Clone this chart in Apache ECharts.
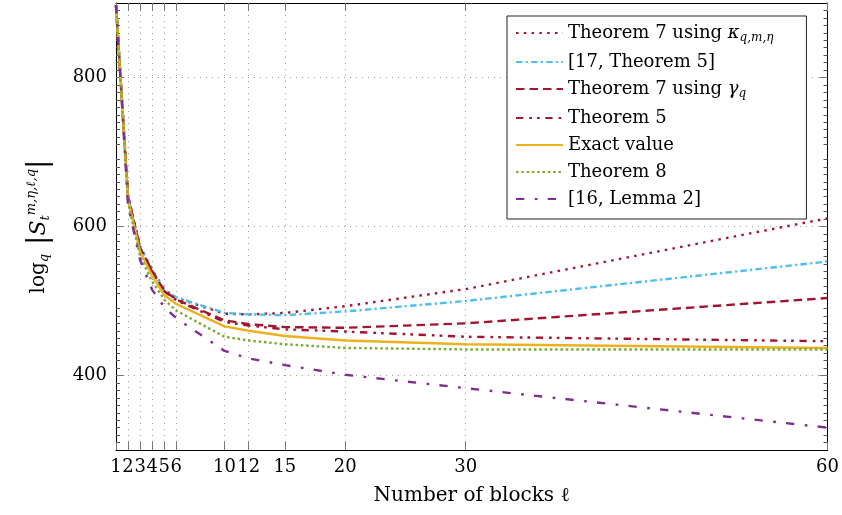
<!DOCTYPE html>
<html>
<head>
<meta charset="utf-8">
<script src="https://cdn.jsdelivr.net/npm/echarts@6/dist/echarts.min.js"></script>
<style>
  html, body { margin: 0; padding: 0; background: #fff; }
  #main { width: 842px; height: 515px; }
</style>
</head>
<body>
<div id="main"></div>
<script>
// x values (number of blocks) and tick labels
var blocks = [1, 2, 3, 4, 5, 6, 10, 12, 15, 20, 30, 60];
var yTicks = [400, 600, 800];

// log_q |S|, one value per entry of blocks
var thm7Kappa = [897, 641, 573, 542, 516, 504, 483, 482, 484, 493, 516, 611];
var ref17Thm5 = [897, 640, 572, 541, 515, 505, 484, 482, 481, 486, 500, 553];
var thm7Gamma = [897, 640, 571, 540, 514, 502, 474, 469, 465, 464, 470, 504];
var thm5 = [897, 640, 571, 539, 513, 501, 472, 467, 462, 459, 452, 446];
var exactVal = [897, 636, 566, 534, 508, 496, 466, 460, 453, 447, 442, 437];
var thm8 = [897, 632, 560, 526, 502, 487, 452, 447, 442, 437, 435, 435];
var ref16Lem2 = [897, 628, 555, 515, 492, 477, 433, 423, 414, 401, 383, 330];

var FONT = 'DejaVu Serif';

function pairs(vals) {
  return blocks.map(function (b, i) { return [b, vals[i]]; });
}

var lines = [
  { name: 'Theorem 7 using κ_q,m,η', data: thm7Kappa, color: '#A2142F', dash: [2.5, 5.3] },
  { name: '[17, Theorem 5]', data: ref17Thm5, color: '#4DBEEE', dash: [6.5, 3.2, 2.2, 3.2] },
  { name: 'Theorem 7 using γ_q', data: thm7Gamma, color: '#A2142F', dash: [8.5, 5] },
  { name: 'Theorem 5', data: thm5, color: '#A2142F', dash: [7.3, 6, 2.7, 5, 2.7, 5.6] },
  { name: 'Exact value', data: exactVal, color: '#EDB120', dash: 'solid' },
  { name: 'Theorem 8', data: thm8, color: '#77AC30', dash: [2.5, 2.8] },
  { name: '[16, Lemma 2]', data: ref16Lem2, color: '#7E2F8E', dash: [8.3, 10.5, 2.7, 10.2] }
];

var myChart = echarts.init(document.getElementById('main'));

var gridLine = { show: true, lineStyle: { color: '#9a9a9a', width: 1, type: [1, 5] } };

myChart.setOption({
  animation: false,
  backgroundColor: '#fff',
  grid: { left: 116, right: 14, top: 3, bottom: 65, containLabel: false },
  legend: {
    orient: 'vertical',
    left: 507,
    top: 16,
    padding: [8, 33, 11, 8],
    itemGap: 9,
    itemWidth: 47,
    itemHeight: 12,
    backgroundColor: '#fff',
    borderColor: '#222',
    borderWidth: 1,
    borderRadius: 0,
    itemStyle: { opacity: 0 },
    textStyle: {
      rich: {
        t: { fontFamily: FONT, fontSize: 18, lineHeight: 22, color: '#000' },
        m: { fontFamily: FONT, fontSize: 18, lineHeight: 22, fontStyle: 'italic', color: '#000' },
        s: { fontFamily: FONT, fontSize: 12, lineHeight: 12, fontStyle: 'italic', verticalAlign: 'bottom', color: '#000' }
      }
    },
    formatter: function (name) {
      var p = name.split('_');
      if (p.length === 1) return '{t|' + name + '}';
      return '{t|' + p[0].slice(0, -1) + '}{m|' + p[0].slice(-1) + '}{s|' + p[1] + '}';
    },
    data: lines.map(function (l) { return l.name; })
  },
  xAxis: [{
    type: 'value',
    min: 1,
    max: 60,
    position: 'bottom',
    name: 'Number of blocks ℓ',
    nameLocation: 'middle',
    nameGap: 36,
    nameTextStyle: { fontFamily: FONT, fontSize: 20, color: '#000' },
    axisLine: { show: true, lineStyle: { color: '#000', width: 1 } },
    axisTick: { show: true, inside: true, length: 8, customValues: blocks, lineStyle: { color: '#777' } },
    axisLabel: { show: true, customValues: blocks, margin: 8, fontFamily: FONT, fontSize: 18, color: '#000' },
    splitLine: gridLine
  }, {
    type: 'value',
    min: 1,
    max: 60,
    position: 'top',
    axisLine: { show: true, lineStyle: { color: '#000', width: 1 } },
    axisTick: { show: true, inside: true, length: 8, customValues: blocks, lineStyle: { color: '#777' } },
    axisLabel: { show: false },
    splitLine: { show: false }
  }],
  yAxis: [{
    type: 'value',
    min: 300,
    max: 900,
    interval: 100,
    position: 'left',
    name: '{l|log}{q|q}{b| |}{S|S}{t|t}{u|m,η,ℓ,q}{b||}',
    nameLocation: 'middle',
    nameRotate: 90,
    nameGap: 61,
    nameTextStyle: {
      rich: {
        l: { fontFamily: FONT, fontSize: 20, lineHeight: 32, color: '#000' },
        q: { fontFamily: FONT, fontSize: 13, lineHeight: 13, fontStyle: 'italic', verticalAlign: 'bottom', padding: [0, 0, 4, 0], color: '#000' },
        b: { fontFamily: FONT, fontSize: 28, lineHeight: 32, color: '#000' },
        S: { fontFamily: FONT, fontSize: 22, lineHeight: 32, fontStyle: 'italic', color: '#000' },
        t: { fontFamily: FONT, fontSize: 13, lineHeight: 13, fontStyle: 'italic', verticalAlign: 'bottom', padding: [0, 0, 3, 0], color: '#000' },
        u: { fontFamily: FONT, fontSize: 13, lineHeight: 13, fontStyle: 'italic', verticalAlign: 'top', padding: [2, 0, 0, 0], color: '#000' }
      }
    },
    axisLine: { show: true, lineStyle: { color: '#000', width: 1 } },
    axisTick: { show: true, inside: true, length: 8, customValues: yTicks, lineStyle: { color: '#777' } },
    minorTick: { show: true, splitNumber: 10, length: 4, lineStyle: { color: '#555' } },
    axisLabel: { show: true, customValues: yTicks, margin: 9, fontFamily: FONT, fontSize: 18, color: '#000' },
    splitLine: gridLine
  }, {
    type: 'value',
    min: 300,
    max: 900,
    interval: 100,
    position: 'right',
    axisLine: { show: true, lineStyle: { color: '#000', width: 1 } },
    axisTick: { show: true, inside: true, length: 8, customValues: yTicks, lineStyle: { color: '#777' } },
    minorTick: { show: true, splitNumber: 10, length: 4, lineStyle: { color: '#555' } },
    axisLabel: { show: false },
    splitLine: { show: false }
  }],
  series: lines.map(function (l) {
    return {
      name: l.name,
      type: 'line',
      xAxisIndex: 0,
      yAxisIndex: 0,
      data: pairs(l.data),
      symbol: 'none',
      lineStyle: { color: l.color, width: 2.4, type: l.dash },
      itemStyle: { color: l.color }
    };
  })
});
</script>
</body>
</html>
